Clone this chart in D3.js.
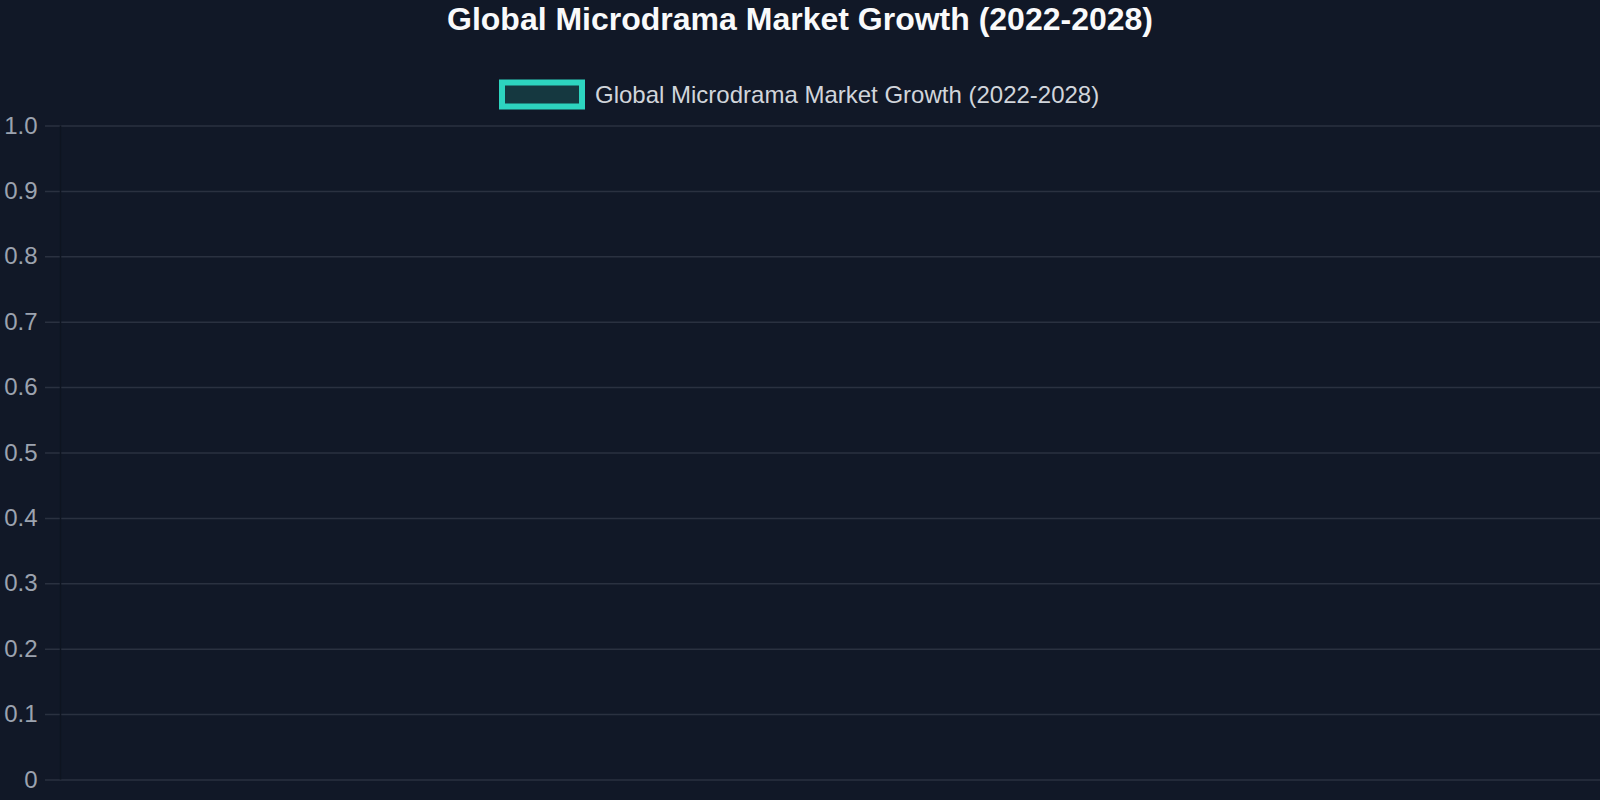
<!DOCTYPE html>
<html>
<head>
<meta charset="utf-8">
<script src="https://cdn.jsdelivr.net/npm/d3@7"></script>
<style>
  html, body { margin: 0; padding: 0; background: #111827; }
  svg { display: block; }
</style>
</head>
<body>
<svg width="1600" height="800"></svg>
<script>
// chart data (the reference chart has no data points plotted)
var title = 'Global Microdrama Market Growth (2022-2028)';
var seriesName = 'Global Microdrama Market Growth (2022-2028)';
var categories = [];
var values = [];
var yTicks = [0, 0.1, 0.2, 0.3, 0.4, 0.5, 0.6, 0.7, 0.8, 0.9, 1.0];

var svg = d3.select('svg');
var font = '"Liberation Sans", Arial, Helvetica, sans-serif';

var plotLeft = 60.5, plotRight = 1600, plotTop = 125.5, plotBottom = 779.5;

var y = d3.scaleLinear().domain([0, 1]).range([plotBottom, plotTop]);
var x = d3.scaleBand().domain(categories).range([plotLeft, plotRight]).padding(0.2);

svg.append('rect').attr('width', 1600).attr('height', 800).attr('fill', '#111827');

// title
svg.append('text')
  .attr('x', 800).attr('y', 30)
  .attr('text-anchor', 'middle')
  .attr('font-family', font).attr('font-size', 32).attr('font-weight', 'bold')
  .attr('fill', '#f9fafb')
  .text(title);

// legend
var legend = svg.append('g');
legend.append('rect')
  .attr('x', 502).attr('y', 82.5).attr('width', 80).attr('height', 24)
  .attr('fill', '#153840').attr('stroke', '#2dd4bf').attr('stroke-width', 6);
legend.append('text')
  .attr('x', 595).attr('y', 102.5)
  .attr('font-family', font).attr('font-size', 24)
  .attr('fill', '#d1d5db')
  .text(seriesName);

// y axis with gridlines
var gy = svg.append('g')
  .attr('transform', 'translate(' + plotRight + ',0)')
  .call(d3.axisLeft(y).tickValues(yTicks).tickSize(plotRight - 45).tickPadding(7.5)
    .tickFormat(function(d) { return d === 0 ? '0' : d3.format('.1f')(d); }));
gy.select('.domain').remove();
gy.selectAll('.tick line').attr('stroke', '#2a3140').attr('stroke-width', 1.5);
gy.selectAll('.tick text')
  .attr('font-family', font).attr('font-size', 24)
  .attr('fill', '#9ca3af');

// y axis border line
svg.append('line')
  .attr('x1', plotLeft).attr('x2', plotLeft)
  .attr('y1', plotTop).attr('y2', plotBottom)
  .attr('stroke', '#0e1420').attr('stroke-width', 1.5);

// bars (none in the reference)
svg.append('g').selectAll('rect')
  .data(values)
  .join('rect')
  .attr('x', function(d, i) { return x(categories[i]); })
  .attr('y', function(d) { return y(d); })
  .attr('width', x.bandwidth())
  .attr('height', function(d) { return plotBottom - y(d); })
  .attr('fill', 'rgba(45,212,191,0.2)')
  .attr('stroke', '#2dd4bf');
</script>
</body>
</html>
